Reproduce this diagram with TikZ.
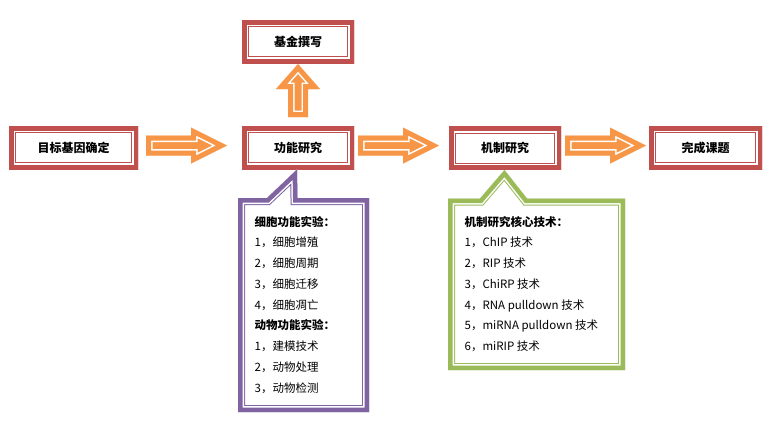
\documentclass[tikz,border=0pt]{standalone}
\usepackage{fontspec}
\setmainfont{Noto Sans CJK SC}
\definecolor{boxred}{HTML}{C0504D}
\definecolor{arrorange}{HTML}{F79646}
\definecolor{callpurple}{HTML}{8064A2}
\definecolor{callgreen}{HTML}{9BBB59}
% framed outline: outer band, white gap, thin inner line (all inside the path)
\newcommand\dblframe[3]{%
  \begin{scope}
    \clip #3;
    \path[fill=#2] #3;
    \draw[#1, line width=14pt, line join=miter] #3;
    \draw[white, line width=12pt, line join=miter] #3;
    \draw[#1, line width=9pt, line join=miter] #3;
  \end{scope}}
% block arrow: outer band, white line, filled inside
\newcommand\blockarrow[2]{%
  \begin{scope}[shift={#1}]
    \clip #2;
    \path[fill=arrorange] #2;
    \draw[white, line width=13pt, line join=miter] #2;
    \draw[arrorange, line width=10pt, line join=miter] #2;
  \end{scope}}
\tikzset{
  lbl/.style={font=\bfseries\fontsize{12}{14}\selectfont, inner sep=0pt, outer sep=0pt, minimum height=43pt},
  item/.style={font=\fontsize{11.5}{14}\selectfont, inner sep=0pt, anchor=base west},
}
\begin{document}
\begin{tikzpicture}[x=1pt,y=-1pt]
\path[use as bounding box, fill=white] (0,0) rectangle (773,421);

% main boxes
\node[lbl, minimum width=129pt] (b1) at (73.5,147.5) {目标基因确定};
\node[lbl, minimum width=112pt] (b0) at (298,41.5) {基金撰写};
\node[lbl, minimum width=112pt] (b2) at (298,147.5) {功能研究};
\node[lbl, minimum width=112pt] (b3) at (505,148) {机制研究};
\node[lbl, minimum width=113pt] (b4) at (705.5,147.5) {完成课题};
\foreach \n in {b0,b1,b2,b3,b4}
  \dblframe{boxred}{none}{(\n.north west) rectangle (\n.south east)};

% horizontal block arrows
\foreach \xa in {146,358,565}
  \blockarrow{(\xa,145.5)}{(0,-10) -- (45,-10) -- (45,-18) -- (81,0) -- (45,18) -- (45,10) -- (0,10) -- cycle};
% upward block arrow
\blockarrow{(298,117)}{(-10,0) -- (-10,-28) -- (-22,-28) -- (0,-53) -- (22,-28) -- (10,-28) -- (10,0) -- cycle};

% purple callout
\dblframe{callpurple}{white}{(238,198) -- (267,198) -- (297,169.5) -- (297.5,198) -- (369,198) -- (369,412) -- (238,412) -- cycle};
\foreach \t [count=\i] in {{\bfseries 细胞功能实验：},1，细胞增殖,2，细胞周期,3，细胞迁移,4，细胞凋亡,{\bfseries 动物功能实验：},1，建模技术,2，动物处理,3，动物检测}
  \node[item] (p\i) at (254.5,{226+20.75*(\i-1)}) {\t};

% green callout
\dblframe{callgreen}{white}{(448,198.5) -- (480,198.5) -- (504.5,170) -- (527,198.5) -- (625,198.5) -- (625,370) -- (448,370) -- cycle};
\foreach \t [count=\i] in {{\bfseries 机制研究核心技术：},1，ChIP 技术,2，RIP 技术,3，ChiRP 技术,4，RNA pulldown 技术,5，miRNA pulldown 技术,6，miRIP 技术}
  \node[item] (g\i) at (464.5,{226+20.75*(\i-1)}) {\t};
\end{tikzpicture}
\end{document}
